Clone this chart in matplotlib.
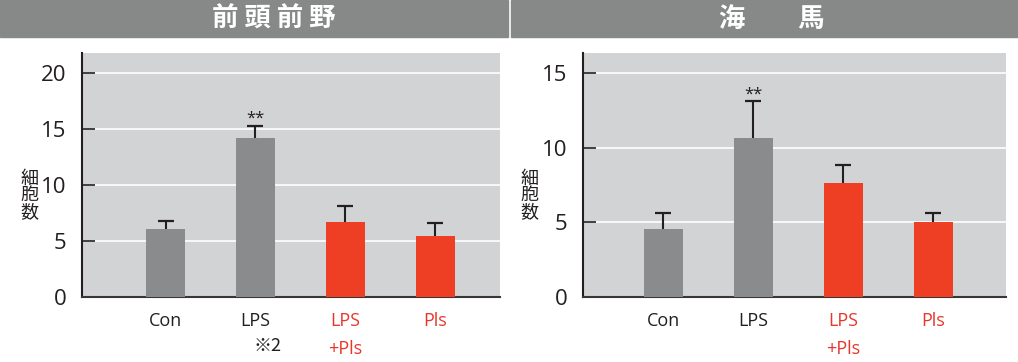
import matplotlib.pyplot as plt
from matplotlib.patches import Rectangle

plt.rcParams['font.family'] = ['Open Sans', 'Noto Sans CJK JP', 'DejaVu Sans']

# data
groups = ["Con", "LPS", "LPS\n+Pls", "Pls"]
label_colors = ["#231f20", "#231f20", "#e8372a", "#e8372a"]
bar_colors = ["#8a8b8d", "#8a8b8d", "#ee3e23", "#ee3e23"]

pfc_mean = [6.1, 14.2, 6.7, 5.45]
pfc_err = [0.7, 1.1, 1.4, 1.15]
hip_mean = [4.55, 10.65, 7.65, 5.0]
hip_err = [1.05, 2.5, 1.2, 0.6]

titles = ["前 頭 前 野", "海　　馬"]
ylabel = "細\n胞\n数"

fig = plt.figure(figsize=(10.18, 3.62), dpi=100)

# gray header bands
fig.patches.append(Rectangle((0, 1 - 37 / 362), 508 / 1018, 37 / 362,
                             transform=fig.transFigure, color="#878888", zorder=0))
fig.patches.append(Rectangle((511 / 1018, 1 - 37 / 362), 507 / 1018, 37 / 362,
                             transform=fig.transFigure, color="#878888", zorder=0))
for tx, t in zip([274, 772], titles):
    fig.text(tx / 1018, 1 - 19 / 362, t, color="white", fontsize=19,
             fontweight="bold", ha="center", va="center", family=["Noto Sans CJK JP"])

panels = [
    dict(rect=[82 / 1018, 65 / 362, 418 / 1018, 244 / 362], mean=pfc_mean, err=pfc_err,
         ylim=21.8, ticks=[0, 5, 10, 15, 20], xlim=(-0.93, 3.72), ylx=29),
    dict(rect=[583 / 1018, 65 / 362, 423 / 1018, 244 / 362], mean=hip_mean, err=hip_err,
         ylim=16.36, ticks=[0, 5, 10, 15], xlim=(-0.894, 3.81), ylx=529),
]

x = list(range(len(groups)))
for p in panels:
    ax = fig.add_axes(p["rect"])
    ax.set_facecolor("#d2d3d5")
    ax.bar(x, p["mean"], width=0.433, color=bar_colors, zorder=3)
    _, caps, _ = ax.errorbar(x, p["mean"], yerr=[[0] * 4, p["err"]], fmt="none",
                             ecolor="#231f20", elinewidth=1.5, capsize=6,
                             capthick=1.6, zorder=4)
    caps[0].set_visible(False)  # no cap at bar top
    ax.set_ylim(0, p["ylim"])
    ax.set_xlim(*p["xlim"])
    ax.set_yticks(p["ticks"])
    ax.yaxis.grid(True, color="white", linewidth=1.2, zorder=1)
    ax.set_axisbelow(True)
    ax.tick_params(axis="y", direction="in", length=9, width=1.2, labelsize=16,
                   pad=11, colors="#231f20")
    ax.set_xticks([])
    for s in ["top", "right"]:
        ax.spines[s].set_visible(False)
    ax.spines["left"].set_linewidth(1.5)
    ax.spines["bottom"].set_linewidth(1.5)
    ax.spines["left"].set_color("#231f20")
    ax.spines["bottom"].set_color("#3a3536")
    for xi, g, c in zip(x, groups, label_colors):
        ax.text(xi, -0.06, g, transform=ax.get_xaxis_transform(), ha="center", va="top",
                color=c, fontsize=13, linespacing=1.75)
    # significance stars on LPS
    ax.text(1, p["mean"][1] + p["err"][1] - 0.1, "**", ha="center", va="bottom",
            fontsize=12, color="#231f20")
    fig.text(p["ylx"] / 1018, 1 - 195 / 362, ylabel, ha="center", va="center",
             fontsize=13, linespacing=0.9, color="#231f20", family=["Noto Sans CJK JP"])
    if p is panels[0]:
        ax.text(1.13, -0.165, "※2", transform=ax.get_xaxis_transform(), ha="center",
                va="top", fontsize=13, color="#231f20",
                family=["Noto Sans CJK JP", "DejaVu Sans"])

fig.savefig("out.png", dpi=100)
